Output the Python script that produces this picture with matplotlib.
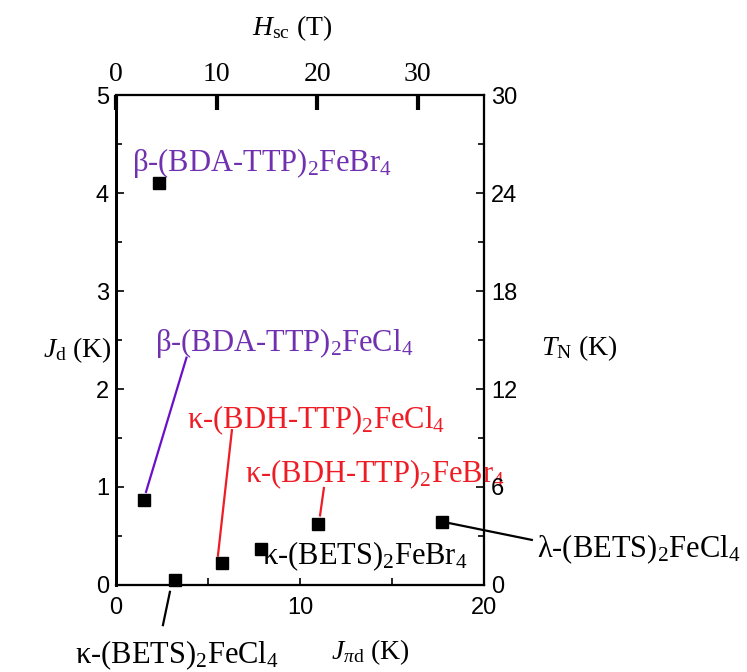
import matplotlib
matplotlib.use("Agg")
import matplotlib.pyplot as plt
from matplotlib.ticker import MultipleLocator

plt.rcParams["mathtext.fontset"] = "custom"
plt.rcParams["mathtext.rm"] = "Liberation Serif"
plt.rcParams["mathtext.it"] = "Liberation Serif:italic"
plt.rcParams["font.family"] = "Liberation Serif"

# compounds, J_pi-d (K) and J_d (K)
names = [
    r"β-(BDA-TTP)$_2$FeBr$_4$",
    r"β-(BDA-TTP)$_2$FeCl$_4$",
    r"κ-(BETS)$_2$FeCl$_4$",
    r"κ-(BDH-TTP)$_2$FeCl$_4$",
    r"κ-(BETS)$_2$FeBr$_4$",
    r"κ-(BDH-TTP)$_2$FeBr$_4$",
    r"λ-(BETS)$_2$FeCl$_4$",
]
j_pid = [2.35, 1.52, 3.2, 5.76, 7.88, 10.98, 17.7]
j_d = [4.10, 0.87, 0.05, 0.22, 0.37, 0.62, 0.64]

PURPLE = "#7030B0"
RED = "#EE1C25"
label_colors = [PURPLE, PURPLE, "black", RED, "black", RED, "black"]
line_colors = ["none", "#6A10C8", "black", RED, "none", RED, "black"]

# label anchor (left, centre) and leader line ends, in data units
label_xy = [(0.87, 4.31), (2.12, 2.47), (-2.23, -0.72), (3.86, 1.68),
            (7.93, 0.29), (7.01, 1.13), (22.9, 0.36)]
leaders = [None,
           ((3.83, 2.32), (1.63, 0.95)),
           ((2.55, -0.41), (2.93, -0.07)),
           ((6.30, 1.58), (5.54, 0.30)),
           None,
           ((11.3, 0.99), (11.09, 0.71)),
           ((22.6, 0.46), (18.15, 0.63))]

fig = plt.figure(figsize=(7.47, 6.72), dpi=100)
ax = fig.add_axes([0.1553, 0.1295, 0.4926, 0.729])

ax.plot(j_pid, j_d, linestyle="none", marker="s", markersize=9,
        color="black", zorder=5, clip_on=False)

for name, (tx, ty), col, lc, ld in zip(names, label_xy, label_colors,
                                        line_colors, leaders):
    ax.text(tx, ty, name, color=col, fontsize=22, ha="left", va="center",
            clip_on=False)
    if ld is not None:
        (x0, y0), (x1, y1) = ld
        ax.plot([x0, x1], [y0, y1], color=lc, linewidth=1.6, clip_on=False)

ax.set_xlim(0, 20)
ax.set_ylim(0, 5)
ax.xaxis.set_major_locator(MultipleLocator(10))
ax.xaxis.set_minor_locator(MultipleLocator(5))
ax.yaxis.set_major_locator(MultipleLocator(1))
ax.yaxis.set_minor_locator(MultipleLocator(0.5))
for lab in ax.get_xticklabels() + ax.get_yticklabels():
    lab.set_family("Liberation Sans")
ax.tick_params(which="both", direction="in", labelsize=17, width=1.2)
ax.tick_params(axis="x", which="major", length=5, pad=9)
ax.tick_params(axis="x", which="minor", length=5)
ax.tick_params(axis="y", which="major", length=6, pad=5)
ax.tick_params(axis="y", which="minor", length=4)
for s in ax.spines.values():
    s.set_linewidth(1.5)
ax.spines["left"].set_linewidth(2)

ax.set_xlabel(r"$J_{\pi\mathrm{d}}$ (K)", fontsize=20, va="center")
ax.xaxis.set_label_coords(0.69, -0.137)
ax.set_ylabel(r"$J_{\mathrm{d}}$ (K)", fontsize=20, rotation=0,
              va="center", ha="center")
ax.yaxis.set_label_coords(-0.106, 0.48)

# right axis: T_N
axr = ax.twinx()
axr.set_ylim(0, 30)
axr.yaxis.set_major_locator(MultipleLocator(6))
axr.yaxis.set_minor_locator(MultipleLocator(3))
axr.tick_params(which="both", direction="in", labelsize=17, width=1.2, pad=5)
axr.tick_params(which="major", length=6)
axr.tick_params(which="minor", length=4)
for lab in axr.get_yticklabels():
    lab.set_family("Liberation Sans")
axr.set_ylabel(r"$T_{\mathrm{N}}$ (K)", fontsize=20, rotation=0,
               va="center", ha="center")
axr.yaxis.set_label_coords(1.26, 0.484)

# top axis: H_sc
axt = ax.twiny()
axt.set_xlim(0, 36.6)
axt.xaxis.set_major_locator(MultipleLocator(10))
axt.tick_params(direction="in", labelsize=20, length=11, width=3, pad=6)
axt.set_xlabel(r"$H_{\mathrm{sc}}$ (T)", fontsize=20, va="center")
axt.xaxis.set_label_coords(0.48, 1.137)
for a in (axr, axt):
    for s in a.spines.values():
        s.set_linewidth(1.5)
    a.spines["left"].set_linewidth(2)

fig.savefig("out.png", dpi=100)
